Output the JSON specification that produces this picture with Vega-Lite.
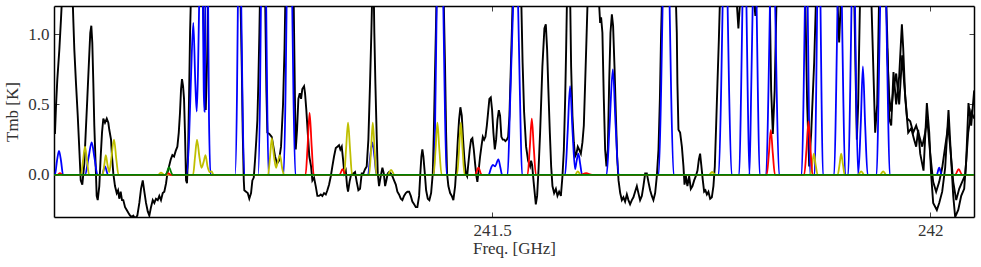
{
"$schema": "https://vega.github.io/schema/vega-lite/v6.json",
"width": 920, "height": 211,
"autosize": {"type": "none"},
"padding": {"left": 54, "top": 6, "right": 7, "bottom": 50},
"background": "white",
"config": {
 "view": {"stroke": null},
 "axis": {"labelFont": "Liberation Serif", "labelFontSize": 17, "labelColor": "#333", "titleFont": "Liberation Serif", "titleFontSize": 17, "titleFontWeight": "normal", "titleColor": "#333", "domainColor": "#000", "domainWidth": 1.5, "tickColor": "#444", "tickSize": -5, "labelPadding": 10, "grid": false, "zindex": 1}
},
"datasets": {
"black": [
{"f":241.0011,"T":0.29},{"f":241.0023,"T":0.49},{"f":241.0038,"T":0.68},{"f":241.0061,"T":0.89},{"f":241.0080,"T":1.11},{"f":241.0091,"T":1.25},{"f":241.0148,"T":2.0},{"f":241.0213,"T":1.25},{"f":241.0220,"T":1.11},{"f":241.0232,"T":0.89},{"f":241.0251,"T":0.65},{"f":241.0271,"T":0.42},{"f":241.0289,"T":0.18},{"f":241.0305,"T":-0.04},{"f":241.0323,"T":-0.07},{"f":241.0346,"T":0.08},{"f":241.0362,"T":0.30},{"f":241.0380,"T":0.54},{"f":241.0400,"T":0.82},{"f":241.0414,"T":1.01},{"f":241.0426,"T":1.06},{"f":241.0437,"T":0.94},{"f":241.0449,"T":0.65},{"f":241.0460,"T":0.35},{"f":241.0476,"T":0.06},{"f":241.0487,"T":-0.15},{"f":241.0499,"T":-0.18},{"f":241.0517,"T":-0.08},{"f":241.0533,"T":0.13},{"f":241.0548,"T":0.30},{"f":241.0563,"T":0.40},{"f":241.0582,"T":0.37},{"f":241.0602,"T":0.40},{"f":241.0620,"T":0.37},{"f":241.0631,"T":0.32},{"f":241.0651,"T":0.25},{"f":241.0662,"T":0.13},{"f":241.0677,"T":0.01},{"f":241.0696,"T":-0.08},{"f":241.0716,"T":-0.13},{"f":241.0731,"T":-0.11},{"f":241.0745,"T":-0.17},{"f":241.0761,"T":-0.12},{"f":241.0776,"T":-0.18},{"f":241.0791,"T":-0.18},{"f":241.0811,"T":-0.23},{"f":241.0830,"T":-0.25},{"f":241.0848,"T":-0.27},{"f":241.0868,"T":-0.29},{"f":241.0887,"T":-0.30},{"f":241.0905,"T":-0.29},{"f":241.0925,"T":-0.31},{"f":241.0951,"T":-0.29},{"f":241.0974,"T":-0.20},{"f":241.0993,"T":-0.10},{"f":241.1013,"T":-0.04},{"f":241.1031,"T":-0.12},{"f":241.1050,"T":-0.20},{"f":241.1070,"T":-0.26},{"f":241.1088,"T":-0.29},{"f":241.1107,"T":-0.23},{"f":241.1127,"T":-0.18},{"f":241.1145,"T":-0.20},{"f":241.1164,"T":-0.17},{"f":241.1184,"T":-0.18},{"f":241.1202,"T":-0.15},{"f":241.1221,"T":-0.18},{"f":241.1241,"T":-0.13},{"f":241.1259,"T":-0.12},{"f":241.1279,"T":-0.06},{"f":241.1294,"T":0.01},{"f":241.1313,"T":0.06},{"f":241.1333,"T":0.11},{"f":241.1351,"T":0.14},{"f":241.1370,"T":0.13},{"f":241.1389,"T":0.17},{"f":241.1408,"T":0.20},{"f":241.1424,"T":0.30},{"f":241.1438,"T":0.44},{"f":241.1450,"T":0.61},{"f":241.1461,"T":0.68},{"f":241.1473,"T":0.63},{"f":241.1484,"T":0.54},{"f":241.1495,"T":0.30},{"f":241.1507,"T":-0.04},{"f":241.1518,"T":-0.06},{"f":241.1530,"T":0.15},{"f":241.1541,"T":0.54},{"f":241.1553,"T":1.01},{"f":241.1564,"T":1.30},{"f":241.1632,"T":2.5},{"f":241.1701,"T":1.30},{"f":241.1718,"T":0.80},{"f":241.1732,"T":0.46},{"f":241.1747,"T":0.80},{"f":241.1761,"T":1.30},{"f":241.1838,"T":3.0},{"f":241.2009,"T":3.0},{"f":241.2127,"T":1.30},{"f":241.2143,"T":0.77},{"f":241.2154,"T":0.30},{"f":241.2166,"T":-0.04},{"f":241.2172,"T":-0.11},{"f":241.2192,"T":-0.12},{"f":241.2211,"T":-0.13},{"f":241.2229,"T":-0.17},{"f":241.2249,"T":-0.13},{"f":241.2264,"T":-0.04},{"f":241.2280,"T":-0.02},{"f":241.2295,"T":0.11},{"f":241.2309,"T":0.25},{"f":241.2321,"T":0.39},{"f":241.2332,"T":0.65},{"f":241.2344,"T":1.01},{"f":241.2352,"T":1.30},{"f":241.2386,"T":2.0},{"f":241.2409,"T":1.30},{"f":241.2424,"T":0.60},{"f":241.2435,"T":0.30},{"f":241.2458,"T":0.29},{"f":241.2485,"T":0.27},{"f":241.2504,"T":0.20},{"f":241.2523,"T":0.13},{"f":241.2546,"T":0.08},{"f":241.2568,"T":0.10},{"f":241.2591,"T":0.20},{"f":241.2614,"T":0.50},{"f":241.2631,"T":0.90},{"f":241.2642,"T":1.30},{"f":241.2694,"T":2.5},{"f":241.2734,"T":1.30},{"f":241.2751,"T":0.50},{"f":241.2759,"T":0.18},{"f":241.2774,"T":0.32},{"f":241.2789,"T":0.54},{"f":241.2805,"T":0.58},{"f":241.2820,"T":0.54},{"f":241.2834,"T":0.61},{"f":241.2854,"T":0.63},{"f":241.2865,"T":0.58},{"f":241.2880,"T":0.46},{"f":241.2896,"T":0.30},{"f":241.2914,"T":0.13},{"f":241.2934,"T":0.06},{"f":241.2949,"T":-0.04},{"f":241.2968,"T":-0.02},{"f":241.2987,"T":-0.08},{"f":241.3006,"T":-0.15},{"f":241.3025,"T":-0.15},{"f":241.3045,"T":-0.14},{"f":241.3063,"T":-0.15},{"f":241.3082,"T":-0.13},{"f":241.3102,"T":-0.14},{"f":241.3120,"T":-0.11},{"f":241.3139,"T":-0.07},{"f":241.3159,"T":-0.01},{"f":241.3177,"T":0.06},{"f":241.3196,"T":0.13},{"f":241.3216,"T":0.19},{"f":241.3234,"T":0.20},{"f":241.3253,"T":0.21},{"f":241.3268,"T":0.18},{"f":241.3284,"T":0.20},{"f":241.3299,"T":0.11},{"f":241.3314,"T":0.01},{"f":241.3330,"T":0.03},{"f":241.3345,"T":-0.08},{"f":241.3356,"T":-0.12},{"f":241.3373,"T":-0.05},{"f":241.3390,"T":0.00},{"f":241.3417,"T":0.01},{"f":241.3436,"T":0.02},{"f":241.3455,"T":-0.05},{"f":241.3474,"T":-0.11},{"f":241.3493,"T":-0.10},{"f":241.3512,"T":0.01},{"f":241.3531,"T":0.01},{"f":241.3550,"T":0.04},{"f":241.3569,"T":0.06},{"f":241.3588,"T":0.25},{"f":241.3607,"T":0.65},{"f":241.3622,"T":1.01},{"f":241.3636,"T":1.40},{"f":241.3647,"T":1.40},{"f":241.3656,"T":1.01},{"f":241.3668,"T":0.65},{"f":241.3684,"T":0.25},{"f":241.3695,"T":0.01},{"f":241.3710,"T":-0.08},{"f":241.3729,"T":-0.01},{"f":241.3748,"T":0.05},{"f":241.3764,"T":0.01},{"f":241.3779,"T":-0.08},{"f":241.3793,"T":-0.04},{"f":241.3809,"T":0.01},{"f":241.3824,"T":0.02},{"f":241.3844,"T":0.01},{"f":241.3862,"T":-0.01},{"f":241.3881,"T":-0.04},{"f":241.3901,"T":-0.07},{"f":241.3919,"T":-0.12},{"f":241.3938,"T":-0.14},{"f":241.3958,"T":-0.17},{"f":241.3976,"T":-0.18},{"f":241.3995,"T":-0.15},{"f":241.4015,"T":-0.13},{"f":241.4033,"T":-0.12},{"f":241.4053,"T":-0.12},{"f":241.4072,"T":-0.15},{"f":241.4090,"T":-0.19},{"f":241.4110,"T":-0.21},{"f":241.4129,"T":-0.23},{"f":241.4147,"T":-0.23},{"f":241.4167,"T":-0.15},{"f":241.4181,"T":0.01},{"f":241.4193,"T":0.13},{"f":241.4204,"T":0.18},{"f":241.4216,"T":0.13},{"f":241.4232,"T":0.01},{"f":241.4247,"T":-0.11},{"f":241.4266,"T":-0.17},{"f":241.4284,"T":-0.18},{"f":241.4304,"T":-0.13},{"f":241.4323,"T":0.01},{"f":241.4335,"T":0.30},{"f":241.4346,"T":0.65},{"f":241.4358,"T":1.01},{"f":241.4367,"T":1.30},{"f":241.4406,"T":2.5},{"f":241.4446,"T":1.30},{"f":241.4463,"T":0.77},{"f":241.4475,"T":0.30},{"f":241.4486,"T":0.01},{"f":241.4501,"T":-0.08},{"f":241.4521,"T":-0.13},{"f":241.4540,"T":-0.15},{"f":241.4558,"T":-0.18},{"f":241.4578,"T":-0.08},{"f":241.4593,"T":0.06},{"f":241.4609,"T":0.25},{"f":241.4623,"T":0.39},{"f":241.4638,"T":0.48},{"f":241.4654,"T":0.42},{"f":241.4669,"T":0.25},{"f":241.4684,"T":0.11},{"f":241.4700,"T":0.01},{"f":241.4715,"T":-0.01},{"f":241.4729,"T":0.08},{"f":241.4745,"T":0.18},{"f":241.4760,"T":0.25},{"f":241.4775,"T":0.26},{"f":241.4791,"T":0.18},{"f":241.4806,"T":0.08},{"f":241.4821,"T":-0.01},{"f":241.4832,"T":-0.05},{"f":241.4848,"T":0.04},{"f":241.4863,"T":0.13},{"f":241.4878,"T":0.20},{"f":241.4894,"T":0.27},{"f":241.4909,"T":0.25},{"f":241.4924,"T":0.27},{"f":241.4940,"T":0.35},{"f":241.4954,"T":0.44},{"f":241.4969,"T":0.54},{"f":241.4985,"T":0.55},{"f":241.5000,"T":0.46},{"f":241.5015,"T":0.30},{"f":241.5031,"T":0.18},{"f":241.5046,"T":0.25},{"f":241.5061,"T":0.39},{"f":241.5077,"T":0.46},{"f":241.5091,"T":0.42},{"f":241.5106,"T":0.27},{"f":241.5122,"T":0.25},{"f":241.5137,"T":0.25},{"f":241.5152,"T":0.24},{"f":241.5168,"T":0.25},{"f":241.5183,"T":0.27},{"f":241.5198,"T":0.42},{"f":241.5214,"T":0.77},{"f":241.5225,"T":1.01},{"f":241.5237,"T":1.30},{"f":241.5286,"T":2.5},{"f":241.5331,"T":1.30},{"f":241.5348,"T":0.80},{"f":241.5365,"T":0.45},{"f":241.5388,"T":0.20},{"f":241.5411,"T":0.10},{"f":241.5434,"T":0.06},{"f":241.5445,"T":0.10},{"f":241.5457,"T":0.07},{"f":241.5474,"T":-0.05},{"f":241.5499,"T":-0.21},{"f":241.5514,"T":-0.15},{"f":241.5531,"T":0.05},{"f":241.5548,"T":0.30},{"f":241.5574,"T":0.77},{"f":241.5597,"T":1.04},{"f":241.5613,"T":1.07},{"f":241.5628,"T":0.89},{"f":241.5642,"T":0.61},{"f":241.5659,"T":0.30},{"f":241.5674,"T":0.06},{"f":241.5689,"T":-0.08},{"f":241.5708,"T":-0.13},{"f":241.5728,"T":-0.10},{"f":241.5746,"T":-0.15},{"f":241.5765,"T":-0.12},{"f":241.5785,"T":-0.15},{"f":241.5803,"T":-0.01},{"f":241.5819,"T":0.18},{"f":241.5834,"T":0.54},{"f":241.5845,"T":0.89},{"f":241.5856,"T":1.30},{"f":241.5873,"T":1.60},{"f":241.5890,"T":1.30},{"f":241.5902,"T":0.77},{"f":241.5917,"T":0.42},{"f":241.5933,"T":0.23},{"f":241.5947,"T":0.13},{"f":241.5962,"T":0.15},{"f":241.5978,"T":0.20},{"f":241.5993,"T":0.18},{"f":241.6013,"T":0.15},{"f":241.6031,"T":0.23},{"f":241.6047,"T":0.35},{"f":241.6062,"T":0.65},{"f":241.6077,"T":0.96},{"f":241.6093,"T":1.30},{"f":241.6153,"T":2.5},{"f":241.6214,"T":1.30},{"f":241.6233,"T":1.08},{"f":241.6244,"T":1.12},{"f":241.6259,"T":1.01},{"f":241.6275,"T":0.54},{"f":241.6290,"T":0.18},{"f":241.6305,"T":0.06},{"f":241.6321,"T":0.18},{"f":241.6336,"T":0.65},{"f":241.6351,"T":1.01},{"f":241.6367,"T":1.14},{"f":241.6381,"T":1.06},{"f":241.6397,"T":0.77},{"f":241.6413,"T":0.42},{"f":241.6427,"T":0.13},{"f":241.6443,"T":-0.04},{"f":241.6462,"T":-0.13},{"f":241.6481,"T":-0.18},{"f":241.6499,"T":-0.16},{"f":241.6518,"T":-0.19},{"f":241.6538,"T":-0.14},{"f":241.6556,"T":-0.18},{"f":241.6575,"T":-0.21},{"f":241.6595,"T":-0.18},{"f":241.6613,"T":-0.16},{"f":241.6632,"T":-0.12},{"f":241.6652,"T":-0.08},{"f":241.6670,"T":-0.13},{"f":241.6689,"T":-0.18},{"f":241.6709,"T":-0.15},{"f":241.6727,"T":-0.08},{"f":241.6747,"T":0.01},{"f":241.6766,"T":0.01},{"f":241.6784,"T":-0.05},{"f":241.6804,"T":-0.11},{"f":241.6823,"T":-0.15},{"f":241.6841,"T":-0.18},{"f":241.6861,"T":-0.13},{"f":241.6880,"T":-0.01},{"f":241.6899,"T":0.18},{"f":241.6915,"T":0.54},{"f":241.6929,"T":1.01},{"f":241.6941,"T":1.30},{"f":241.7009,"T":2.5},{"f":241.7095,"T":1.30},{"f":241.7108,"T":1.01},{"f":241.7115,"T":0.65},{"f":241.7127,"T":0.32},{"f":241.7146,"T":0.30},{"f":241.7166,"T":0.20},{"f":241.7184,"T":0.06},{"f":241.7196,"T":-0.07},{"f":241.7212,"T":-0.01},{"f":241.7229,"T":-0.08},{"f":241.7249,"T":-0.01},{"f":241.7268,"T":-0.10},{"f":241.7287,"T":-0.08},{"f":241.7306,"T":-0.04},{"f":241.7325,"T":-0.01},{"f":241.7344,"T":0.03},{"f":241.7360,"T":0.11},{"f":241.7374,"T":0.15},{"f":241.7389,"T":0.06},{"f":241.7405,"T":-0.04},{"f":241.7420,"T":-0.12},{"f":241.7435,"T":-0.11},{"f":241.7451,"T":-0.14},{"f":241.7469,"T":-0.12},{"f":241.7489,"T":-0.17},{"f":241.7508,"T":-0.16},{"f":241.7526,"T":-0.08},{"f":241.7542,"T":0.06},{"f":241.7557,"T":0.35},{"f":241.7572,"T":0.65},{"f":241.7588,"T":0.96},{"f":241.7603,"T":1.30},{"f":241.7694,"T":2.5},{"f":241.7785,"T":1.30},{"f":241.7811,"T":1.04},{"f":241.7837,"T":1.30},{"f":241.7922,"T":2.5},{"f":241.7991,"T":1.22},{"f":241.8005,"T":1.13},{"f":241.8019,"T":1.22},{"f":241.8082,"T":2.5},{"f":241.8168,"T":1.30},{"f":241.8185,"T":0.60},{"f":241.8204,"T":0.29},{"f":241.8225,"T":0.60},{"f":241.8248,"T":1.30},{"f":241.8402,"T":2.5},{"f":241.8573,"T":1.30},{"f":241.8596,"T":0.50},{"f":241.8619,"T":0.06},{"f":241.8642,"T":0.30},{"f":241.8676,"T":0.80},{"f":241.8699,"T":1.30},{"f":241.8836,"T":2.5},{"f":241.8938,"T":1.30},{"f":241.8961,"T":0.94},{"f":241.8984,"T":1.30},{"f":241.9064,"T":2.5},{"f":241.9132,"T":1.30},{"f":241.9149,"T":0.70},{"f":241.9163,"T":0.25},{"f":241.9178,"T":0.50},{"f":241.9189,"T":0.90},{"f":241.9201,"T":1.30},{"f":241.9258,"T":2.5},{"f":241.9326,"T":1.30},{"f":241.9349,"T":0.80},{"f":241.9372,"T":0.30},{"f":241.9395,"T":0.50},{"f":241.9418,"T":1.30},{"f":241.9463,"T":2.0},{"f":241.9509,"T":1.00},{"f":241.9532,"T":0.40},{"f":241.9555,"T":0.35},{"f":241.9581,"T":0.73},{"f":241.9612,"T":0.50},{"f":241.9646,"T":0.70},{"f":241.9677,"T":1.07},{"f":241.9692,"T":0.90},{"f":241.9715,"T":0.55},{"f":241.9749,"T":0.30},{"f":241.9783,"T":0.33},{"f":241.9817,"T":0.25},{"f":241.9840,"T":0.20},{"f":241.9863,"T":0.32},{"f":241.9886,"T":0.15},{"f":241.9924,"T":0.03},{"f":241.9962,"T":0.51},{"f":241.9989,"T":0.30},{"f":242.0011,"T":0.00},{"f":242.0034,"T":-0.20},{"f":242.0076,"T":-0.25},{"f":242.0103,"T":-0.20},{"f":242.0137,"T":-0.12},{"f":242.0171,"T":0.05},{"f":242.0209,"T":0.46},{"f":242.0240,"T":0.10},{"f":242.0263,"T":-0.15},{"f":242.0285,"T":-0.30},{"f":242.0320,"T":-0.25},{"f":242.0354,"T":-0.15},{"f":242.0388,"T":-0.10},{"f":242.0411,"T":0.10},{"f":242.0437,"T":0.51},{"f":242.0468,"T":0.35},{"f":242.0502,"T":0.60}
],
"black2": [
{"f":241.9509,"T":0.90},{"f":241.9532,"T":0.55},{"f":241.9555,"T":0.45},{"f":241.9578,"T":0.60},{"f":241.9612,"T":0.72},{"f":241.9646,"T":0.50},{"f":241.9680,"T":0.85},{"f":241.9703,"T":0.65},{"f":241.9737,"T":0.40},{"f":241.9772,"T":0.38},{"f":241.9806,"T":0.30},{"f":241.9840,"T":0.35},{"f":241.9874,"T":0.28},{"f":241.9909,"T":0.20},{"f":241.9943,"T":0.30},{"f":241.9966,"T":0.40},{"f":242.0000,"T":0.15},{"f":242.0034,"T":-0.05},{"f":242.0068,"T":-0.12},{"f":242.0103,"T":-0.05},{"f":242.0137,"T":0.05},{"f":242.0171,"T":0.20},{"f":242.0205,"T":0.35},{"f":242.0228,"T":0.20},{"f":242.0263,"T":-0.05},{"f":242.0297,"T":-0.18},{"f":242.0331,"T":-0.10},{"f":242.0365,"T":-0.05},{"f":242.0400,"T":0.00},{"f":242.0434,"T":0.30},{"f":242.0468,"T":0.45},{"f":242.0502,"T":0.40}
],
"blue": [
{"f":241.0000,"T":0},{"f":241.0011,"T":0},{"f":241.0034,"T":0.1},{"f":241.0057,"T":0.17},{"f":241.0080,"T":0.1},{"f":241.0103,"T":0},
{"f":241.0354,"T":0},{"f":241.0394,"T":0.12},{"f":241.0430,"T":0.23},{"f":241.0462,"T":0.12},{"f":241.0497,"T":0},
{"f":241.0548,"T":0},{"f":241.0582,"T":0.06},{"f":241.0616,"T":0},
{"f":241.1513,"T":0},{"f":241.1541,"T":0.25},{"f":241.1564,"T":0.7},{"f":241.1590,"T":1.08},{"f":241.1613,"T":0.65},{"f":241.1629,"T":0.45},{"f":241.1644,"T":0.75},{"f":241.1659,"T":1.3},{"f":241.1678,"T":2.5},{"f":241.1698,"T":1.3},{"f":241.1709,"T":0.6},{"f":241.1718,"T":0.45},{"f":241.1729,"T":1.3},{"f":241.1743,"T":2.0},{"f":241.1758,"T":1.3},{"f":241.1769,"T":0.4},{"f":241.1787,"T":0},
{"f":241.2066,"T":0},{"f":241.2089,"T":0.6},{"f":241.2100,"T":1.3},{"f":241.2118,"T":2.5},{"f":241.2135,"T":1.3},{"f":241.2152,"T":0.5},{"f":241.2172,"T":0},
{"f":241.2329,"T":0},{"f":241.2352,"T":0.6},{"f":241.2363,"T":1.3},{"f":241.2392,"T":2.5},{"f":241.2420,"T":1.3},{"f":241.2432,"T":0.6},{"f":241.2449,"T":0},
{"f":241.2620,"T":0},{"f":241.2643,"T":0.6},{"f":241.2657,"T":1.3},{"f":241.2688,"T":2.5},{"f":241.2717,"T":1.3},{"f":241.2732,"T":0.6},{"f":241.2755,"T":0},
{"f":241.3585,"T":0},{"f":241.3607,"T":0.12},{"f":241.3634,"T":0.23},{"f":241.3659,"T":0.12},{"f":241.3681,"T":0},
{"f":241.4338,"T":0},{"f":241.4355,"T":0.6},{"f":241.4370,"T":1.3},{"f":241.4406,"T":2.5},{"f":241.4441,"T":1.3},{"f":241.4458,"T":0.6},{"f":241.4481,"T":0},
{"f":241.4960,"T":0},{"f":241.4989,"T":0.05},{"f":241.5008,"T":0.07},{"f":241.5034,"T":0.06},{"f":241.5072,"T":0.11},{"f":241.5095,"T":0.05},{"f":241.5114,"T":0},
{"f":241.5177,"T":0},{"f":241.5205,"T":0.5},{"f":241.5240,"T":1.2},{"f":241.5274,"T":2.0},{"f":241.5297,"T":1.2},{"f":241.5320,"T":0.5},{"f":241.5342,"T":0},
{"f":241.5833,"T":0},{"f":241.5862,"T":0.3},{"f":241.5890,"T":0.63},{"f":241.5919,"T":0.3},{"f":241.5947,"T":0.04},{"f":241.5965,"T":0.1},{"f":241.5985,"T":0.15},{"f":241.6005,"T":0.08},{"f":241.6027,"T":0},
{"f":241.6307,"T":0},{"f":241.6341,"T":0.35},{"f":241.6378,"T":0.75},{"f":241.6410,"T":0.35},{"f":241.6444,"T":0},
{"f":241.6901,"T":0},{"f":241.6929,"T":0.6},{"f":241.6946,"T":1.2},{"f":241.6986,"T":2.0},{"f":241.7026,"T":1.2},{"f":241.7043,"T":0.6},{"f":241.7072,"T":0},
{"f":241.7586,"T":0},{"f":241.7614,"T":0.6},{"f":241.7631,"T":1.2},{"f":241.7660,"T":2.0},{"f":241.7688,"T":1.2},{"f":241.7705,"T":0.6},{"f":241.7734,"T":0},
{"f":241.7820,"T":0},{"f":241.7842,"T":0.6},{"f":241.7857,"T":1.2},{"f":241.7880,"T":2.0},{"f":241.7903,"T":1.2},{"f":241.7917,"T":0.6},{"f":241.7937,"T":0},
{"f":241.7957,"T":0.6},{"f":241.7974,"T":1.2},{"f":241.7997,"T":2.0},{"f":241.8019,"T":1.2},{"f":241.8033,"T":0.6},{"f":241.8054,"T":0},
{"f":241.8128,"T":0},{"f":241.8154,"T":0.6},{"f":241.8171,"T":1.2},{"f":241.8202,"T":2.0},{"f":241.8231,"T":1.2},{"f":241.8248,"T":0.6},{"f":241.8276,"T":0},
{"f":241.8533,"T":0},{"f":241.8556,"T":0.6},{"f":241.8570,"T":1.2},{"f":241.8584,"T":2.0},{"f":241.8602,"T":1.2},{"f":241.8613,"T":0.6},{"f":241.8630,"T":0},
{"f":241.8681,"T":0},{"f":241.8699,"T":0.6},{"f":241.8710,"T":1.2},{"f":241.8729,"T":2.0},{"f":241.8748,"T":1.2},{"f":241.8759,"T":0.6},{"f":241.8776,"T":0},
{"f":241.8904,"T":0},{"f":241.8927,"T":0.6},{"f":241.8942,"T":1.2},{"f":241.8967,"T":2.0},{"f":241.8992,"T":1.2},{"f":241.9007,"T":0.6},{"f":241.9030,"T":0},
{"f":241.9064,"T":0},{"f":241.9087,"T":0.6},{"f":241.9102,"T":1.2},{"f":241.9121,"T":2.0},{"f":241.9142,"T":1.2},{"f":241.9155,"T":0.6},{"f":241.9178,"T":0},
{"f":241.9207,"T":0.35},{"f":241.9232,"T":0.77},{"f":241.9258,"T":0.35},{"f":241.9286,"T":0},
{"f":241.9389,"T":0},{"f":241.9412,"T":0.6},{"f":241.9429,"T":1.2},{"f":241.9463,"T":2.0},{"f":241.9498,"T":1.2},{"f":241.9515,"T":0.6},{"f":241.9538,"T":0},
{"f":242.0074,"T":0},{"f":242.0103,"T":0.05},{"f":242.0131,"T":0},{"f":242.0502,"T":0}
],
"yellow": [
{"f":241.0000,"T":0},{"f":241.0308,"T":0},{"f":241.0331,"T":0.1},{"f":241.0354,"T":0.2},{"f":241.0377,"T":0.1},{"f":241.0400,"T":0},
{"f":241.0554,"T":0},{"f":241.0574,"T":0.07},{"f":241.0591,"T":0.14},{"f":241.0611,"T":0.07},{"f":241.0631,"T":0.02},{"f":241.0651,"T":0.1},{"f":241.0685,"T":0.25},{"f":241.0713,"T":0.1},{"f":241.0736,"T":0},
{"f":241.1187,"T":0},{"f":241.1221,"T":0.015},{"f":241.1256,"T":0},
{"f":241.1587,"T":0},{"f":241.1610,"T":0.13},{"f":241.1632,"T":0.25},{"f":241.1661,"T":0.12},{"f":241.1684,"T":0.05},{"f":241.1707,"T":0.09},{"f":241.1729,"T":0.14},{"f":241.1752,"T":0.06},{"f":241.1775,"T":0.02},{"f":241.1798,"T":0.025},{"f":241.1821,"T":0},
{"f":241.2443,"T":0},{"f":241.2466,"T":0.13},{"f":241.2486,"T":0.26},{"f":241.2511,"T":0.13},{"f":241.2534,"T":0.05},{"f":241.2557,"T":0.1},{"f":241.2580,"T":0.14},{"f":241.2603,"T":0.05},{"f":241.2626,"T":0},
{"f":241.3311,"T":0},{"f":241.3333,"T":0.18},{"f":241.3356,"T":0.37},{"f":241.3379,"T":0.18},{"f":241.3402,"T":0},
{"f":241.3596,"T":0},{"f":241.3619,"T":0.18},{"f":241.3638,"T":0.37},{"f":241.3659,"T":0.18},{"f":241.3681,"T":0},
{"f":241.3807,"T":0},{"f":241.3847,"T":0.035},{"f":241.3887,"T":0},
{"f":241.4332,"T":0},{"f":241.4355,"T":0.18},{"f":241.4376,"T":0.37},{"f":241.4398,"T":0.18},{"f":241.4424,"T":0},
{"f":241.4600,"T":0},{"f":241.4623,"T":0.18},{"f":241.4643,"T":0.37},{"f":241.4663,"T":0.18},{"f":241.4686,"T":0},
{"f":241.5947,"T":0},{"f":241.5978,"T":0.025},{"f":241.6010,"T":0},
{"f":241.7477,"T":0},{"f":241.7511,"T":0.02},{"f":241.7546,"T":0},
{"f":241.8630,"T":0},{"f":241.8653,"T":0.07},{"f":241.8672,"T":0.15},{"f":241.8693,"T":0.07},{"f":241.8716,"T":0},
{"f":241.8944,"T":0},{"f":241.8965,"T":0.07},{"f":241.8984,"T":0.15},{"f":241.9005,"T":0.07},{"f":241.9024,"T":0},
{"f":241.9178,"T":0},{"f":241.9212,"T":0.025},{"f":241.9247,"T":0},
{"f":241.9429,"T":0},{"f":241.9463,"T":0.025},{"f":241.9498,"T":0},{"f":242.0502,"T":0}
],
"red": [
{"f":241.0000,"T":0},{"f":241.0040,"T":0},{"f":241.0068,"T":0.012},{"f":241.0097,"T":0},
{"f":241.1267,"T":0},{"f":241.1301,"T":0.012},{"f":241.1336,"T":0},
{"f":241.2871,"T":0},{"f":241.2894,"T":0.2},{"f":241.2917,"T":0.44},{"f":241.2941,"T":0.2},{"f":241.2964,"T":0},
{"f":241.3259,"T":0},{"f":241.3293,"T":0.04},{"f":241.3328,"T":0},
{"f":241.4806,"T":0},{"f":241.4844,"T":0.05},{"f":241.4880,"T":0},
{"f":241.5405,"T":0},{"f":241.5430,"T":0.19},{"f":241.5453,"T":0.40},{"f":241.5476,"T":0.19},{"f":241.5500,"T":0},
{"f":241.6005,"T":0},{"f":241.6073,"T":0.012},{"f":241.6142,"T":0},
{"f":241.8134,"T":0},{"f":241.8159,"T":0.15},{"f":241.8181,"T":0.32},{"f":241.8204,"T":0.15},{"f":241.8228,"T":0},
{"f":241.8562,"T":0},{"f":241.8588,"T":0.18},{"f":241.8611,"T":0.38},{"f":241.8634,"T":0.18},{"f":241.8659,"T":0},
{"f":242.0285,"T":0},{"f":242.0325,"T":0.04},{"f":242.0365,"T":0},{"f":242.0502,"T":0}
],
"green": [
{"f":241.0000,"T":0},{"f":241.1273,"T":0},{"f":241.1296,"T":0.03},{"f":241.1313,"T":0.055},{"f":241.1330,"T":0.03},{"f":241.1353,"T":0},{"f":242.0502,"T":0}
]
},
"resolve": {"axis": {"x": "independent", "y": "independent"}},
"layer": [
{"data": {"name": "black"}, "mark": {"type": "line", "clip": true, "color": "#000", "strokeWidth": 1.9},
 "encoding": {
  "x": {"field": "f", "type": "quantitative", "scale": {"domain": [241.0, 242.05], "nice": false, "zero": false}, "axis": {"values": [241.5, 242], "format": "~f", "title": "Freq. [GHz]", "titlePadding": 2}},
  "y": {"field": "T", "type": "quantitative", "scale": {"domain": [-0.3, 1.2], "nice": false, "zero": false}, "axis": {"values": [0, 0.5, 1], "format": ".1f", "title": "Tmb [K]", "titlePadding": 6}}
 }},
{"data": {"name": "black2"}, "mark": {"type": "line", "clip": true, "color": "#000", "strokeWidth": 1.9},
 "encoding": {"x": {"field": "f", "type": "quantitative", "axis": null}, "y": {"field": "T", "type": "quantitative", "axis": null}}},
{"data": {"name": "blue"}, "mark": {"type": "line", "clip": true, "color": "#0000ff", "strokeWidth": 1.8, "interpolate": "monotone"},
 "encoding": {"x": {"field": "f", "type": "quantitative", "axis": null}, "y": {"field": "T", "type": "quantitative", "axis": null}}},
{"data": {"name": "yellow"}, "mark": {"type": "line", "clip": true, "color": "#bfbf00", "strokeWidth": 1.8, "interpolate": "monotone"},
 "encoding": {"x": {"field": "f", "type": "quantitative", "axis": null}, "y": {"field": "T", "type": "quantitative", "axis": null}}},
{"data": {"name": "red"}, "mark": {"type": "line", "clip": true, "color": "#ff0000", "strokeWidth": 1.8, "interpolate": "monotone"},
 "encoding": {"x": {"field": "f", "type": "quantitative", "axis": null}, "y": {"field": "T", "type": "quantitative", "axis": null}}},
{"data": {"name": "green"}, "mark": {"type": "line", "clip": true, "color": "#008000", "strokeWidth": 1.8, "interpolate": "monotone"},
 "encoding": {
  "x": {"field": "f", "type": "quantitative", "axis": {"orient": "top", "values": [241.5, 242], "labels": false, "title": null}},
  "y": {"field": "T", "type": "quantitative", "axis": {"orient": "right", "values": [0, 0.5, 1], "labels": false, "title": null}}
 }}
]
}
